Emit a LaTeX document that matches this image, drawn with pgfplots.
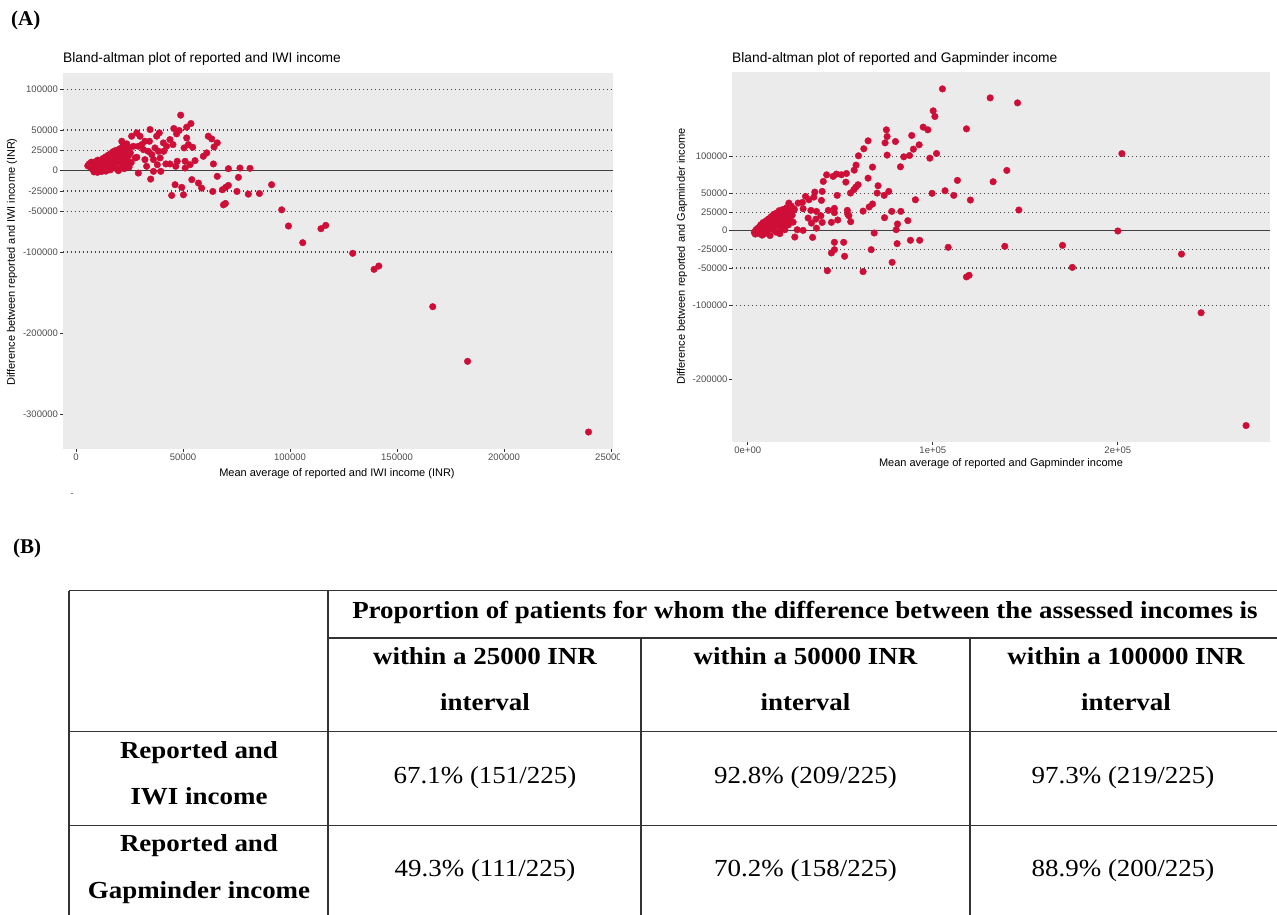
\documentclass[border=0pt]{standalone}
\usepackage{pgfplots}
\pgfplotsset{compat=1.18}
\usepackage{fontspec}
\setmainfont{Liberation Serif}
\newfontfamily\sansf{Liberation Sans}
\newfontfamily\tabf[FakeStretch=1.1]{Liberation Serif}
\definecolor{bggray}{HTML}{EBEBEB}
\definecolor{dotred}{RGB}{206,14,55}
\definecolor{refgray}{HTML}{444444}
\definecolor{ticktext}{HTML}{4D4D4D}
\definecolor{tickmark}{HTML}{333333}
\definecolor{tabline}{HTML}{333333}
\pgfplotsset{
  ba/.style={
    scale only axis,
    scaled ticks=false,
    axis background/.style={fill=bggray},
    axis line style={draw=none},
    tick align=outside,
    xtick pos=bottom, ytick pos=left,
    major tick length=3pt,
    tick style={tickmark, line width=0.8pt},
    tick label style={font=\sansf\fontsize{9.5}{10}\selectfont, text=ticktext, inner sep=1.5pt},
    clip=true,
  },
  refl/.style={refgray, line width=1.2pt, dash pattern=on 1.2pt off 2.8pt},
  zerol/.style={black!75, line width=1.4pt},
  pts/.style={only marks, mark=*, mark size=3.3pt, color=dotred, mark options={draw=dotred, fill=dotred}},
}
\begin{document}
\begin{tikzpicture}
\path[use as bounding box] (0pt,0pt) rectangle (1277pt,-915pt);
\fill[white] (0pt,0pt) rectangle (1277pt,-915pt);

% ---------- Left plot ----------
\begin{axis}[ba,
  at={(62.6pt,-448.7pt)}, anchor=south west,
  width=550.4pt, height=376pt,
  xmin=-6260, xmax=250900, ymin=-341800, ymax=120500,
  xtick={0,50000,100000,150000,200000,250000},
  xticklabels={0,50000,100000,150000,200000,250000},
  ytick={-300000,-200000,-100000,-50000,-25000,0,25000,50000,100000},
  yticklabels={-300000,-200000,-100000,-50000,-25000,0,25000,50000,100000},
]
\addplot[refl] coordinates {(-6260,100000) (250900,100000)};
\addplot[refl] coordinates {(-6260,50000) (250900,50000)};
\addplot[refl] coordinates {(-6260,25000) (250900,25000)};
\addplot[refl] coordinates {(-6260,-25000) (250900,-25000)};
\addplot[refl] coordinates {(-6260,-50000) (250900,-50000)};
\addplot[refl] coordinates {(-6260,-100000) (250900,-100000)};
\addplot[zerol] coordinates {(-6260,0) (250900,0)};
\addplot[pts] table {
x y
5500 6000
6200 8500
6800 4000
7200 10500
7600 2000
8000 7000
8400 -1500
8800 5000
9000 11000
9300 3000
9700 8000
10000 -2000
10200 13000
10500 6000
10800 1000
11000 9500
11300 4000
11700 12000
12000 -1000
12200 7500
12600 15000
12900 2500
13200 10000
13500 5500
13800 17000
14100 8000
14400 12500
14700 3500
15000 19000
15300 9500
15600 14500
15900 6500
16200 21000
16500 11500
16800 17000
17100 4500
17400 23500
17700 13500
18000 19500
18300 8500
18600 25000
18900 15500
19200 10500
19500 21500
19800 0
20100 17500
20400 27000
20700 12500
21000 23000
21300 6000
21600 19000
21900 30000
22200 14500
22500 25500
22800 9000
23100 21000
23400 16000
23700 33000
24000 26000
24300 12000
24600 19000
25000 28500
25400 22000
25800 10000
16000 1000
22500 2500
24800 4500
14000 -500
18500 3000
23500 7000
21400 36200
26000 42400
26800 30000
27600 15700
28400 16500
29100 -2900
29900 42400
30700 32100
31500 25900
32200 13600
33000 5400
34600 50600
34300 36200
34900 -10300
35400 19800
36200 -800
36900 28000
37700 42400
38000 7400
38900 46500
39300 15700
39600 -800
40800 34200
42000 8300
43900 38300
43900 8300
44700 -30400
45700 51900
46300 -17200
47000 45300
47300 11600
48200 49400
48900 68300
49400 -20500
50200 -29600
50500 28000
51000 11600
51000 3300
51700 53500
51700 40300
52500 32100
53300 7400
53700 58000
54100 -11000
54500 28800
55600 12400
57200 -15200
58700 -21400
59500 17700
61100 21900
61800 42400
63400 39100
63900 -25500
64200 8300
64500 29200
66000 34200
66000 -6900
33700 23900
36200 13600
38500 23900
32200 36200
29100 30000
41000 23900
42300 30000
45300 32100
46600 5400
28400 46500
71200 2500
76600 3300
81300 2900
75900 -8200
68400 -23400
69900 -20500
71200 -18100
75200 -25500
80500 -28800
85700 -28000
91400 -17200
68900 -42000
69800 -40300
96100 -48100
99260 -68000
105930 -88500
114450 -71300
116670 -67200
129260 -101600
139260 -121300
141480 -117200
166670 -167200
182960 -234400
239460 -321300
};
\end{axis}

% ---------- Right plot ----------
\begin{axis}[ba,
  at={(732.2pt,-441.7pt)}, anchor=south west,
  width=537.7pt, height=369.4pt,
  xmin=-8430, xmax=282200, ymin=-283600, ymax=212900,
  xtick={0,100000,200000},
  xticklabels={0e+00,1e+05,2e+05},
  ytick={-200000,-100000,-50000,-25000,0,25000,50000,100000},
  yticklabels={-200000,-100000,-50000,-25000,0,25000,50000,100000},
]
\addplot[refl] coordinates {(-8430,100000) (282200,100000)};
\addplot[refl] coordinates {(-8430,50000) (282200,50000)};
\addplot[refl] coordinates {(-8430,25000) (282200,25000)};
\addplot[refl] coordinates {(-8430,-25000) (282200,-25000)};
\addplot[refl] coordinates {(-8430,-50000) (282200,-50000)};
\addplot[refl] coordinates {(-8430,-100000) (282200,-100000)};
\addplot[zerol] coordinates {(-8430,0) (282200,0)};
\addplot[pts] table {
x y
3500 -2000
4000 -4500
4400 1000
4800 -1500
5200 3000
5600 -3500
6000 500
6300 5000
6700 -2000
7000 8000
7300 2500
7700 -6000
8000 6000
8300 11000
8700 1000
9000 -4000
9300 9500
9600 4000
10000 13500
10300 -1000
10700 7500
11000 2000
11300 16000
11700 11000
12000 -6500
12300 5500
12700 19000
13000 9000
13300 14500
13700 1500
14000 22000
14300 11500
14700 6500
15000 17500
15300 -2000
15700 24000
16000 13000
16400 8500
16700 20000
17000 27000
17400 15000
17800 3000
18200 22500
18600 10500
19000 28500
19400 17500
19800 6500
20200 24500
20600 12500
21000 31000
21500 19500
22000 8000
22500 26000
23000 15000
23500 33000
24000 21000
24500 11500
25000 28000
42600 75100
40800 66200
40200 52800
36200 51900
35700 45200
39800 40700
31200 46100
33000 41600
29500 38000
27200 37100
22200 37100
25100 29100
29900 29500
34100 27300
37100 25900
39500 20100
40200 11100
36800 15600
34400 10200
37100 3400
32600 17000
43500 27300
26700 1300
29900 400
35000 -9000
25400 -8500
17300 -4000
20000 1300
105200 190600
131000 178500
145800 171800
100200 161100
101100 153500
118200 136900
94800 139200
97300 135600
74900 135600
75300 126600
88600 128000
79800 119900
74200 118100
65000 120800
92600 115400
89500 109600
62700 110100
59800 100700
75300 101600
84300 99300
87400 101100
98400 97500
102000 103800
67400 85500
58500 88200
57500 81400
82500 85900
53300 76900
47900 76100
50600 75200
46100 73000
65000 70600
53000 65300
59600 61800
58400 58600
57300 55100
55500 50600
48300 47500
70400 60400
69900 50600
73700 47500
76200 52800
113300 67600
132600 65800
140000 81000
106600 53700
99600 50200
111300 47500
120300 41200
90600 41600
146500 27800
67400 35900
65600 31900
62300 26300
53800 27300
77800 26000
82700 26000
68300 -3100
80200 1400
80900 9000
86500 13500
73900 17500
48600 14400
55600 12100
46800 30000
46800 24200
45200 11200
52300 -34400
46800 -15600
51800 -15600
46800 -25500
45200 -29900
66700 -25500
87900 -12900
92900 -12900
80700 -17400
78000 -42500
108300 -22300
138900 -21000
62300 -55000
118200 -62100
119600 -59900
43000 -53800
54000 22400
54600 20100
170100 -19700
175400 -49300
200000 -400
202200 103600
234400 -31400
245000 -110300
269300 -261900
};
\end{axis}

% cut of the left image at its right edge
\fill[white] (620pt,-449.5pt) rectangle (640pt,-466pt);

% ---------- Texts of panel (A) ----------
\node[anchor=west, inner sep=0pt, font=\bfseries\fontsize{21}{24}\selectfont] at (11pt,-20pt) {(A)};
\node[anchor=west, inner sep=0pt, font=\sansf\fontsize{13.8}{15}\selectfont] at (63pt,-59pt) {Bland-altman plot of reported and IWI income};
\node[anchor=west, inner sep=0pt, font=\sansf\fontsize{13.8}{15}\selectfont] at (732pt,-59pt) {Bland-altman plot of reported and Gapminder income};
\node[rotate=90, inner sep=0pt, font=\sansf\fontsize{11}{12}\selectfont] at (12pt,-262pt) {Difference between reported and IWI income (INR)};
\node[rotate=90, inner sep=0pt, font=\sansf\fontsize{11}{12}\selectfont] at (682pt,-256.5pt) {Difference between reported and Gapminder income};
\node[inner sep=0pt, font=\sansf\fontsize{11}{12}\selectfont] at (337pt,-473.3pt) {Mean average of reported and IWI income (INR)};
\node[inner sep=0pt, font=\sansf\fontsize{11}{12}\selectfont] at (1001pt,-463.3pt) {Mean average of reported and Gapminder income};
\node[inner sep=0pt, text=ticktext, font=\sansf\fontsize{9}{9}\selectfont] at (72pt,-495pt) {-};

% ---------- Panel (B): table ----------
\node[anchor=west, inner sep=0pt, font=\bfseries\fontsize{21}{24}\selectfont] at (13pt,-548pt) {(B)};
\begin{scope}[tabline, line width=1.2pt]
\draw (69pt,-590.7pt) -- (1277pt,-590.7pt);
\draw (69pt,-590.7pt) -- (69pt,-915pt);
\draw (328pt,-590.7pt) -- (328pt,-915pt);
\draw (328pt,-638pt) -- (1277pt,-638pt);
\draw (641pt,-638pt) -- (641pt,-915pt);
\draw (970pt,-638pt) -- (970pt,-915pt);
\draw (69pt,-731.7pt) -- (1277pt,-731.7pt);
\draw (69pt,-825.7pt) -- (1277pt,-825.7pt);
\end{scope}
\begin{scope}[every node/.style={inner sep=0pt, anchor=base, font=\tabf\fontsize{24.5}{28}\selectfont}]
\node[font=\tabf\bfseries\fontsize{24.5}{28}\selectfont] at (805pt,-618pt) {Proportion of patients for whom the difference between the assessed incomes is};
\node[font=\tabf\bfseries\fontsize{24.5}{28}\selectfont] at (485pt,-664.5pt) {within a 25000 INR};
\node[font=\tabf\bfseries\fontsize{24.5}{28}\selectfont] at (485pt,-710.5pt) {interval};
\node[font=\tabf\bfseries\fontsize{24.5}{28}\selectfont] at (805.5pt,-664.5pt) {within a 50000 INR};
\node[font=\tabf\bfseries\fontsize{24.5}{28}\selectfont] at (805.5pt,-710.5pt) {interval};
\node[font=\tabf\bfseries\fontsize{24.5}{28}\selectfont] at (1126pt,-664.5pt) {within a 100000 INR};
\node[font=\tabf\bfseries\fontsize{24.5}{28}\selectfont] at (1126pt,-710.5pt) {interval};
\node[font=\tabf\bfseries\fontsize{24.5}{28}\selectfont] at (199pt,-758pt) {Reported and};
\node[font=\tabf\bfseries\fontsize{24.5}{28}\selectfont] at (199pt,-804.5pt) {IWI income};
\node[font=\tabf\bfseries\fontsize{24.5}{28}\selectfont] at (199pt,-851.3pt) {Reported and};
\node[font=\tabf\bfseries\fontsize{24.5}{28}\selectfont] at (199pt,-898pt) {Gapminder income};
\node at (485pt,-783pt) {67.1\% (151/225)};
\node at (805.5pt,-783pt) {92.8\% (209/225)};
\node at (1123pt,-783pt) {97.3\% (219/225)};
\node at (485pt,-876.3pt) {49.3\% (111/225)};
\node at (805.5pt,-876.3pt) {70.2\% (158/225)};
\node at (1123pt,-876.3pt) {88.9\% (200/225)};
\end{scope}
\end{tikzpicture}
\end{document}
